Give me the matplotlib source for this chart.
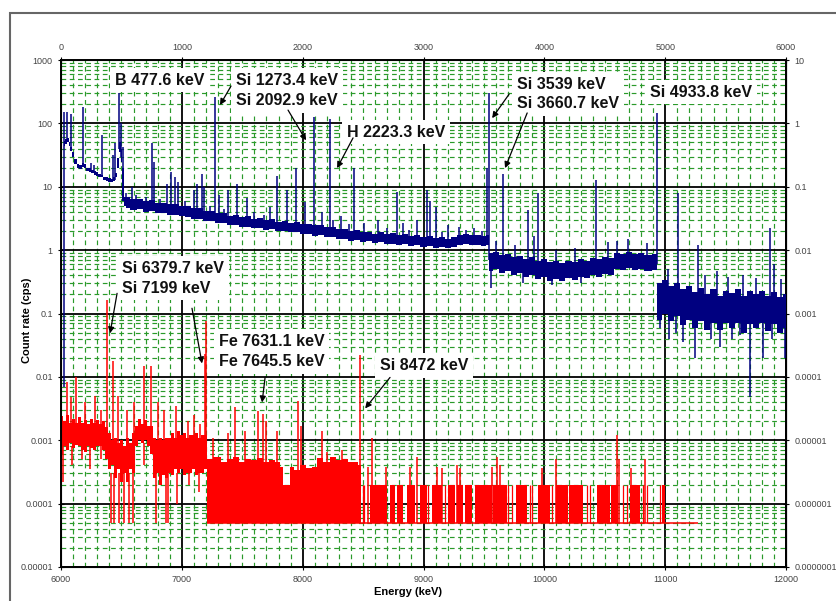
import numpy as np
import matplotlib.pyplot as plt
from matplotlib.ticker import FixedLocator, MultipleLocator, LogLocator, NullLocator, NullFormatter
from matplotlib.patches import Rectangle

plt.rcParams['font.family'] = ['Liberation Sans', 'DejaVu Sans']

# --- blue spectrum (top axis, 0-6000 keV): noise band envelope ---
blue_e = [25, 40, 55, 70, 85, 100, 120, 140, 160, 180, 200, 220, 240, 260, 280, 300, 320, 340,
          360, 380, 400, 420, 440, 455, 470, 485, 500, 512, 525,
          550, 600, 650, 700, 750, 800, 850, 900, 950, 1000, 1050, 1100, 1150, 1200, 1250,
          1300, 1350, 1400, 1450, 1500, 1550, 1600, 1650, 1700, 1750, 1800, 1850, 1900, 1950,
          2000, 2050, 2100, 2150, 2200, 2250, 2300, 2350, 2400, 2450, 2500, 2550, 2600, 2650,
          2700, 2750, 2800, 2850, 2900, 2950, 3000, 3050, 3100, 3150, 3200, 3250, 3300, 3350,
          3400, 3450, 3500, 3535, 3550, 3600, 3650, 3700, 3750, 3800, 3850, 3900, 3950, 4000,
          4050, 4100, 4150, 4200, 4250, 4300, 4350, 4400, 4450, 4500, 4550, 4600, 4650, 4700,
          4750, 4800, 4850, 4925, 4945, 5000, 5050, 5100, 5150, 5200, 5250, 5300, 5350, 5400,
          5450, 5500, 5550, 5600, 5650, 5700, 5750, 5800, 5850, 5900, 5950, 6000]
blue_lo = [44, 48, 50, 44, 36, 30, 23, 20, 19, 20.5, 19.5, 17.5, 17, 16.5, 15.5, 15, 14.5, 14,
           13, 12.5, 12, 12, 12.5, 14, 20, 35, 25, 6, 5.0,
           4.6, 4.3, 4.4, 4.0, 4.1, 3.8, 3.8, 3.6, 3.6, 3.4, 3.35, 3.15, 3.1, 2.9, 2.85,
           2.65, 2.65, 2.5, 2.5, 2.3, 2.35, 2.2, 2.22, 2.1, 2.12, 1.98, 2.0, 1.9, 1.93,
           1.8, 1.82, 1.7, 1.73, 1.62, 1.6, 1.5, 1.51, 1.4, 1.43, 1.34, 1.37, 1.3, 1.32,
           1.24, 1.27, 1.2, 1.23, 1.17, 1.2, 1.13, 1.16, 1.1, 1.13, 1.08, 1.14, 1.2, 1.25,
           1.2, 1.22, 1.17, 1.2, 0.46, 0.5, 0.43, 0.46, 0.4, 0.43, 0.37, 0.4, 0.35, 0.37,
           0.32, 0.35, 0.33, 0.36, 0.34, 0.38, 0.36, 0.4, 0.38, 0.42, 0.41, 0.5, 0.48, 0.53,
           0.48, 0.51, 0.47, 0.49, 0.08, 0.1, 0.075, 0.09, 0.065, 0.08, 0.06, 0.075, 0.055, 0.07,
           0.055, 0.072, 0.058, 0.07, 0.05, 0.068, 0.06, 0.07, 0.052, 0.068, 0.05, 0.06]
blue_hi = [52, 56, 58, 50, 42, 35, 27, 23, 22, 24, 22.5, 20, 19.5, 18.5, 17.5, 17, 16, 15.5,
           14.5, 14, 13.5, 13.2, 14, 16.5, 28, 50, 40, 20, 6.8,
           6.8, 6.4, 6.5, 6.0, 6.1, 5.5, 5.6, 5.3, 5.4, 4.9, 4.9, 4.55, 4.6, 4.15, 4.2,
           3.8, 3.9, 3.5, 3.6, 3.3, 3.4, 3.1, 3.2, 2.95, 3.05, 2.8, 2.9, 2.68, 2.75,
           2.55, 2.62, 2.45, 2.5, 2.28, 2.32, 2.12, 2.18, 2.0, 2.05, 1.9, 1.96, 1.82, 1.9,
           1.78, 1.83, 1.72, 1.78, 1.66, 1.72, 1.62, 1.67, 1.57, 1.63, 1.52, 1.62, 1.76, 1.78,
           1.72, 1.76, 1.66, 1.72, 0.9, 0.94, 0.84, 0.88, 0.78, 0.82, 0.72, 0.77, 0.68, 0.72,
           0.64, 0.68, 0.62, 0.68, 0.65, 0.72, 0.68, 0.74, 0.72, 0.78, 0.76, 0.9, 0.86, 0.92,
           0.86, 0.9, 0.84, 0.86, 0.3, 0.34, 0.27, 0.3, 0.24, 0.27, 0.22, 0.25, 0.2, 0.24,
           0.19, 0.23, 0.21, 0.24, 0.19, 0.23, 0.2, 0.23, 0.19, 0.22, 0.18, 0.2]

# blue peaks: energy (keV), base, top (cps)
blue_peaks = [(47, 50, 152), (83, 40, 140), (185, 22, 180), (250, 18, 24), (270, 17, 22),
              (340, 15, 65), (430, 13, 32), (447, 13, 49), (478, 40, 300), (500, 30, 100),
              (510, 10, 42), (540, 5, 8), (590, 5, 10), (620, 5, 7.5), (670, 5, 6.5),
              (700, 4.8, 7), (755, 5, 49), (770, 5, 25), (820, 4.5, 6.5), (875, 4.5, 11),
              (910, 4.5, 17), (945, 4.3, 14), (970, 4.2, 12), (1030, 4, 6), (1100, 3.8, 9),
              (1125, 3.7, 11), (1170, 3.6, 16), (1185, 3.5, 10), (1230, 3.4, 5),
              (1276, 3.3, 260), (1310, 3.2, 7.4), (1350, 3.1, 4.5), (1385, 3.1, 9),
              (1455, 3, 11), (1540, 2.8, 6.6), (1600, 2.6, 4), (1680, 2.5, 3.6),
              (1730, 2.6, 4.8), (1790, 2.5, 15), (1870, 2.4, 9), (1945, 2.3, 20),
              (2020, 2.2, 5.7), (2093, 2.1, 126), (2160, 2, 4), (2227, 1.9, 117),
              (2250, 1.9, 3), (2320, 1.8, 3.5), (2380, 1.7, 2.6), (2425, 1.7, 20),
              (2510, 1.6, 2.7), (2620, 1.55, 3), (2700, 1.5, 2.2), (2780, 1.5, 8.3),
              (2830, 1.45, 2.7), (2880, 1.4, 2.1), (2950, 1.4, 3), (3030, 1.4, 9),
              (3050, 1.4, 6), (3100, 1.35, 4.8), (3150, 1.3, 1.9), (3200, 1.3, 2.5),
              (3295, 1.4, 2.3), (3350, 1.45, 2.1), (3420, 1.4, 2.2), (3480, 1.4, 2.0),
              (3525, 1.4, 20), (3545, 0.7, 300), (3600, 0.6, 1.4), (3660, 0.6, 16),
              (3760, 0.55, 1.2), (3865, 0.5, 4.3), (3915, 0.5, 1.7), (3950, 0.5, 8),
              (4100, 0.45, 1.0), (4250, 0.5, 1.1), (4430, 0.55, 13), (4530, 0.6, 1.35),
              (4600, 0.65, 1.4), (4690, 0.65, 1.5), (4850, 0.65, 1.3), (4934, 0.6, 145),
              (5020, 0.15, 0.5), (5110, 0.12, 8), (5275, 0.1, 1.2), (5330, 0.1, 0.4),
              (5430, 0.1, 0.47), (5520, 0.1, 0.38), (5640, 0.1, 0.4), (5750, 0.1, 0.36),
              (5870, 0.1, 2.2), (5900, 0.1, 0.6), (5960, 0.1, 0.35)]
# blue downward excursions: energy, top, bottom
blue_dips = [(22, 150, 0.007), (3560, 0.6, 0.25), (3820, 0.5, 0.3), (4060, 0.45, 0.28),
             (4300, 0.5, 0.3), (4960, 0.15, 0.06), (5030, 0.12, 0.04), (5090, 0.1, 0.05),
             (5150, 0.1, 0.035), (5250, 0.1, 0.02), (5380, 0.1, 0.04), (5450, 0.1, 0.03),
             (5550, 0.1, 0.04), (5620, 0.1, 0.045), (5700, 0.1, 0.0048), (5810, 0.1, 0.02),
             (5880, 0.1, 0.04), (5990, 0.1, 0.02)]

# --- red spectrum (bottom axis, 6000-12000 keV) ---
red_e = [6000, 6025, 6050, 6075, 6100, 6125, 6150, 6175, 6200, 6225, 6250, 6275, 6300, 6325,
         6350, 6375, 6400, 6425, 6450, 6475, 6500, 6525, 6550, 6575, 6600, 6625, 6650, 6675,
         6700, 6725, 6750, 6775, 6800, 6825, 6850, 6875, 6900, 6925, 6950, 6975, 7000, 7025,
         7050, 7075, 7100, 7125, 7150, 7175, 7195, 7215, 7300, 7350, 7400, 7450, 7500, 7550,
         7600, 7650, 7700, 7750, 7800, 7830, 7840, 7890, 7900, 7950, 8000, 8050, 8100, 8130,
         8200, 8250, 8300, 8350, 8400, 8430, 8485]
red_lo = [0.0006, 0.0008, 0.0007, 0.0009, 0.00075, 0.00085, 0.0008, 0.0007, 0.00065, 0.0008,
          0.00075, 0.0007, 0.0008, 0.0008, 0.0007, 0.0005, 0.00035, 0.0004, 0.00025, 0.00035,
          0.00022, 0.0003, 0.00022, 0.00035, 0.0003, 0.0008, 0.001, 0.0009, 0.001, 0.0008,
          0.0006, 0.00025, 0.0003, 0.0002, 0.00028, 0.00025, 0.0003, 0.00028, 0.00035, 0.0003,
          0.00035, 0.00028, 0.0003, 0.0003, 0.00035, 0.00028, 0.0003, 0.0003, 0.00035,
          5e-5, 5e-5, 5e-5, 5e-5, 5e-5, 5e-5, 5e-5, 5e-5, 5e-5, 5e-5, 5e-5, 5e-5, 5e-5, 5e-5,
          5e-5, 5e-5, 5e-5, 5e-5, 5e-5, 5e-5, 5e-5, 5e-5, 5e-5, 5e-5, 5e-5, 5e-5, 5e-5, 5e-5]
red_hi = [0.0024, 0.002, 0.0025, 0.0019, 0.0022, 0.0019, 0.0023, 0.0019, 0.0021, 0.0018,
          0.0022, 0.0019, 0.0021, 0.0018, 0.002, 0.0016, 0.0013, 0.001, 0.0011, 0.0009,
          0.001, 0.0008, 0.0011, 0.0009, 0.0013, 0.0017, 0.0022, 0.0018, 0.0021, 0.0017,
          0.0017, 0.0011, 0.001, 0.0011, 0.001, 0.0011, 0.0011, 0.0013, 0.0011, 0.0014,
          0.0012, 0.0013, 0.0011, 0.0012, 0.0012, 0.0013, 0.0011, 0.0012, 0.0012,
          0.0005, 0.00055, 0.00045, 0.0005, 0.00054, 0.00045, 0.0005, 0.00048, 0.00052,
          0.00045, 0.00048, 0.00045, 0.00038, 0.0002, 0.0002, 0.00038, 0.00034, 0.0004,
          0.00036, 0.00038, 0.00052, 0.00046, 0.00054, 0.00048, 0.0005, 0.00045, 0.00045, 0.0004]

red_peaks = [(6050, 0.0015, 0.0083), (6080, 0.0015, 0.0048), (6125, 0.0015, 0.01),
             (6200, 0.0015, 0.004), (6280, 0.0015, 0.005), (6330, 0.0015, 0.003),
             (6380, 0.001, 0.165), (6430, 0.0006, 0.018), (6470, 0.0006, 0.005),
             (6550, 0.0006, 0.003), (6600, 0.0006, 0.004), (6690, 0.0015, 0.015),
             (6745, 0.0015, 0.015), (6800, 0.0006, 0.004), (6850, 0.0006, 0.003),
             (6950, 0.0006, 0.0035), (7050, 0.0006, 0.002), (7100, 0.0006, 0.0025),
             (7150, 0.0006, 0.0018), (7190, 0.0006, 0.023), (7200, 0.0006, 0.076),
             (7255, 0.0003, 0.0011), (7380, 0.0003, 0.0013), (7440, 0.0003, 0.0033),
             (7520, 0.0003, 0.0014), (7631, 0.0003, 0.0029), (7670, 0.0003, 0.0026),
             (7700, 0.0003, 0.002), (7790, 0.0003, 0.0014), (7960, 0.0003, 0.0042),
             (7990, 0.0003, 0.0017), (8160, 0.0003, 0.0014), (8200, 0.0003, 0.00065),
             (8325, 0.0003, 0.0007), (8472, 0.0003, 0.022), (8540, 5e-5, 0.00038),
             (8570, 5e-5, 0.0011), (8690, 5e-5, 0.00038), (8885, 5e-5, 0.00038),
             (8950, 5e-5, 0.00054), (9110, 5e-5, 0.00038), (9150, 5e-5, 0.00037),
             (9275, 5e-5, 0.0004), (9300, 5e-5, 0.00037), (9570, 5e-5, 0.00038),
             (9610, 5e-5, 0.00054), (9630, 5e-5, 0.0004), (9980, 5e-5, 0.00037),
             (10100, 5e-5, 0.0005), (10600, 5e-5, 0.0012), (10620, 5e-5, 0.0005),
             (10720, 5e-5, 0.00037), (10830, 5e-5, 0.0005)]
red_dips = [(6020, 0.0008, 0.00022), (6090, 0.0008, 0.0004), (6170, 0.0008, 0.0005),
            (6240, 0.0008, 0.00035), (6330, 0.0008, 0.0005), (6410, 0.0003, 5e-5),
            (6440, 0.0003, 5e-5), (6480, 0.0003, 5e-5), (6520, 0.0003, 5e-5),
            (6560, 0.0003, 5e-5), (6595, 0.0003, 5e-5), (6690, 0.0009, 0.0004),
            (6790, 0.0003, 5e-5), (6870, 0.0003, 5e-5), (6885, 0.0003, 5e-5),
            (6960, 0.0003, 0.0001), (7060, 0.0003, 0.0002), (7140, 0.0003, 0.00015)]
# single-count comb above 8480 keV
red_comb_blocks = [(8555, 8695), (8720, 8765), (8780, 8830), (8865, 8930), (8970, 9025),
                   (9070, 9150), (9200, 9260), (9275, 9330), (9345, 9400), (9425, 9565),
                   (9575, 9690), (9765, 9855), (9945, 10045), (10100, 10195), (10205, 10320),
                   (10435, 10545), (10555, 10610), (10705, 10790), (10975, 11000)]
red_comb_lines = [8500, 8510, 9040, 9180, 9700, 9730, 9880, 9900, 10060, 10350, 10380,
                  10650, 10680, 10820, 10850, 10960]
red_comb_top = 0.0002
red_floor = 5e-5
red_floor_range = (7210, 11270)

# axis tick labels
left_vals = [1e-5, 1e-4, 1e-3, 1e-2, 1e-1, 1, 10, 100, 1000]
left_labels = ['0.00001', '0.0001', '0.001', '0.01', '0.1', '1', '10', '100', '1000']
right_vals = [1e-7, 1e-6, 1e-5, 1e-4, 1e-3, 1e-2, 1e-1, 1, 10]
right_labels = ['0.0000001', '0.000001', '0.00001', '0.0001', '0.001', '0.01', '0.1', '1', '10']
bottom_ticks = [6000, 7000, 8000, 9000, 10000, 11000, 12000]
top_ticks = [0, 1000, 2000, 3000, 4000, 5000, 6000]

# peak labels: (text, x, y) in blue (top) or red (bottom) coordinates
blue_texts = [('B 477.6 keV', 447, 480), ('Si 1273.4 keV\nSi 2092.9 keV', 1449, 330),
              ('H 2223.3 keV', 2368, 73), ('Si 3539 keV\nSi 3660.7 keV', 3775, 290),
              ('Si 4933.8 keV', 4876, 312)]
blue_arrows = [((1407, 388), (1316, 195)), ((1879, 162), (2028, 54)),
               ((2417, 59), (2285, 19.7)), ((3709, 290), (3568, 121)),
               ((3858, 146), (3675, 19.7))]
red_texts = [('Si 6379.7 keV\nSi 7199 keV', 6505, 0.36), ('Fe 7631.1 keV\nFe 7645.5 keV', 7308, 0.0253),
             ('Si 8472 keV', 8641, 0.0152)]
red_arrows = [((6464, 0.208), (6406, 0.0486)), ((7084, 0.121), (7167, 0.0163)),
              ((7689, 0.0098), (7664, 0.00395)), ((8723, 0.0098), (8517, 0.00318))]

navy = '#000080'
red = '#ff0000'

fig = plt.figure(figsize=(8.36, 6.01), dpi=100)
ax = fig.add_axes([61 / 836, 1 - 567 / 601, 725 / 836, 507 / 601])
ax.set_yscale('log')
ax.set_ylim(1e-5, 1e3)
ax.set_xlim(6000, 12000)

# grid
ax.xaxis.set_major_locator(FixedLocator(bottom_ticks))
ax.xaxis.set_minor_locator(MultipleLocator(100))
ax.yaxis.set_major_locator(FixedLocator(left_vals))
ax.yaxis.set_minor_locator(LogLocator(base=10, subs=np.arange(2, 10), numticks=20))
ax.yaxis.set_minor_formatter(NullFormatter())
ax.set_yticklabels(left_labels)
ax.set_xticklabels([str(t) for t in bottom_ticks])
ax.grid(which='minor', color='#2a9a2a', linestyle=(0, (4, 3)), linewidth=0.85)
ax.grid(which='major', color='black', linewidth=1.3)
ax.set_axisbelow(True)
ax.tick_params(which='minor', length=0)
ax.tick_params(which='major', direction='inout', length=5, labelsize=6.5, labelcolor='#444')
for s in ax.spines.values():
    s.set_linewidth(1.4)

sec = ax.secondary_yaxis('right', functions=(lambda v: v / 100, lambda v: v * 100))
sec.set_yticks(right_vals)
sec.set_yticklabels(right_labels)
sec.yaxis.set_minor_locator(NullLocator())
sec.tick_params(direction='inout', length=5, labelsize=6.5, labelcolor='#444')

ax_top = ax.twiny()
ax_top.set_xlim(0, 6000)
ax_top.xaxis.set_major_locator(FixedLocator(top_ticks))
ax_top.xaxis.set_minor_locator(NullLocator())
ax_top.set_xticklabels([str(t) for t in top_ticks])
ax_top.tick_params(direction='inout', length=5, labelsize=6.5, labelcolor='#444')

# red spectrum
ax.fill_between(red_e, red_lo, red_hi, step='mid', color=red, lw=0, zorder=3)
for e, b, t in red_peaks:
    ax.vlines(e, b, t, color=red, lw=1.1, zorder=3)
for e, t, b in red_dips:
    ax.vlines(e, b, t, color=red, lw=1.1, zorder=3)
for s, e in red_comb_blocks:
    ax.fill_between([s, e], [red_floor, red_floor], [red_comb_top, red_comb_top],
                    color=red, lw=0, zorder=3)
ax.vlines(red_comb_lines, red_floor, red_comb_top, color=red, lw=0.9, zorder=3)
ax.hlines(red_floor, red_floor_range[0], red_floor_range[1], color=red, lw=1.1, zorder=3)

# blue spectrum
ax_top.fill_between(blue_e, blue_lo, blue_hi, step='mid', color=navy, lw=0, zorder=3)
for e, b, t in blue_peaks:
    ax_top.vlines(e, b, t, color=navy, lw=1.1, zorder=3)
for e, t, b in blue_dips:
    ax_top.vlines(e, b, t, color=navy, lw=1.1, zorder=3)

box = dict(boxstyle='square,pad=0.3', fc='white', ec='none')
arrow = dict(arrowstyle='-|>', color='black', lw=0.9, mutation_scale=9, shrinkA=0, shrinkB=0)
for txt, x, y in blue_texts:
    ax_top.text(x, y, txt, fontsize=11.5, fontweight='bold', ha='left', va='center',
                color='#111', bbox=box, zorder=6, linespacing=1.4)
for start, end in blue_arrows:
    ax_top.annotate('', xy=end, xytext=start, arrowprops=arrow, zorder=7)
for txt, x, y in red_texts:
    ax.text(x, y, txt, fontsize=11.5, fontweight='bold', ha='left', va='center',
            color='#111', bbox=box, zorder=6, linespacing=1.4)
for start, end in red_arrows:
    ax.annotate('', xy=end, xytext=start, arrowprops=arrow, zorder=7)

fig.text(27 / 836, 1 - 320 / 601, 'Count rate (cps)', rotation=90, fontsize=8,
         fontweight='bold', ha='center', va='center')
fig.text(408 / 836, 1 - 592 / 601, 'Energy (keV)', fontsize=8, fontweight='bold',
         ha='center', va='center')

fig.patches.append(Rectangle((10 / 836, -0.02), 1.0, 1 - 13 / 601 + 0.02, transform=fig.transFigure,
                             fill=False, ec='#666', lw=1.5))

fig.savefig('out.png', dpi=100)
